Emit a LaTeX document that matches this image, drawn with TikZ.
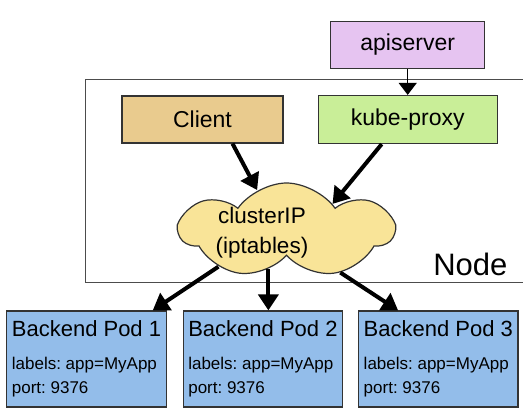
\documentclass[tikz,border=0pt]{standalone}
\usepackage{fontspec}
\setmainfont{Liberation Sans}
\usetikzlibrary{shapes.symbols, arrows.meta, positioning}

\definecolor{apiColor}{RGB}{230,196,241}
\definecolor{clientColor}{RGB}{233,203,142}
\definecolor{proxyColor}{RGB}{201,238,152}
\definecolor{cloudColor}{RGB}{249,228,152}
\definecolor{podColor}{RGB}{147,189,234}

\begin{document}
\begin{tikzpicture}[
    x=1pt, y=1pt,
    box/.style={rectangle, draw=black!80, line width=1.2pt, minimum height=47pt, font=\fontsize{23}{27}\selectfont},
    pod/.style={rectangle, draw=black!80, line width=1.2pt, fill=podColor, minimum width=159pt, minimum height=96pt, inner xsep=5pt, align=left, font=\fontsize{17}{24}\selectfont\frenchspacing},
    arrow/.style={-{Triangle[length=16pt,width=20pt]}, line width=4pt},
    thinarrow/.style={-{Triangle[length=12pt,width=18pt]}, line width=1.3pt}
]
\useasboundingbox (0,0) rectangle (523,-415);

% Node frame
\draw[black!70, line width=1pt] (523,-79) -- (85,-79) -- (85,-282) -- (523,-282);
\node[anchor=base east, font=\fontsize{31}{36}\selectfont] (node-label) at (511,-275) {Node};

% Nodes
\node[box, fill=clientColor, minimum width=161pt] (client) at (202.5,-119.5) {Client};
\node[box, fill=proxyColor, minimum width=179pt, minimum height=48pt, right=34pt of client] (kube-proxy) {kube-proxy};
\node[box, fill=apiColor, minimum width=154pt, above=26pt of kube-proxy] (apiserver) {apiserver};
\node[cloud, draw=black!80, line width=1.2pt, fill=cloudColor, cloud puffs=7, cloud puff arc=110, aspect=2.2, minimum width=213pt, minimum height=95pt] (cluster-ip) at (286.5,-230.5) {};
\node[font=\fontsize{22.5}{30}\selectfont, align=center] (cluster-label) at (262,-233) {clusterIP\\(iptables)};
\node[pod] (pod-1) at (86.5,-359) {{\fontsize{22}{26}\selectfont Backend Pod 1}\\[9pt]labels: app=MyApp\\port: 9376};
\node[pod, right=16pt of pod-1] (pod-2) {{\fontsize{22}{26}\selectfont Backend Pod 2}\\[9pt]labels: app=MyApp\\port: 9376};
\node[pod, right=15pt of pod-2] (pod-3) {{\fontsize{22}{26}\selectfont Backend Pod 3}\\[9pt]labels: app=MyApp\\port: 9376};

% Arrows
\draw[thinarrow] (apiserver.south) -- (apiserver.south |- kube-proxy.north);
\draw[arrow] ([xshift=30pt]client.south) -- (cluster-ip.126);
\draw[arrow] ([xshift=-26pt]kube-proxy.south) -- (cluster-ip.30);
\draw[arrow] (cluster-ip.208) -- ([xshift=-14pt]pod-1.north east);
\draw[arrow] (cluster-ip.245) -- (cluster-ip.245 |- pod-2.north);
\draw[arrow] (cluster-ip.322) -- ([xshift=40pt]pod-3.north west);

\end{tikzpicture}
\end{document}
